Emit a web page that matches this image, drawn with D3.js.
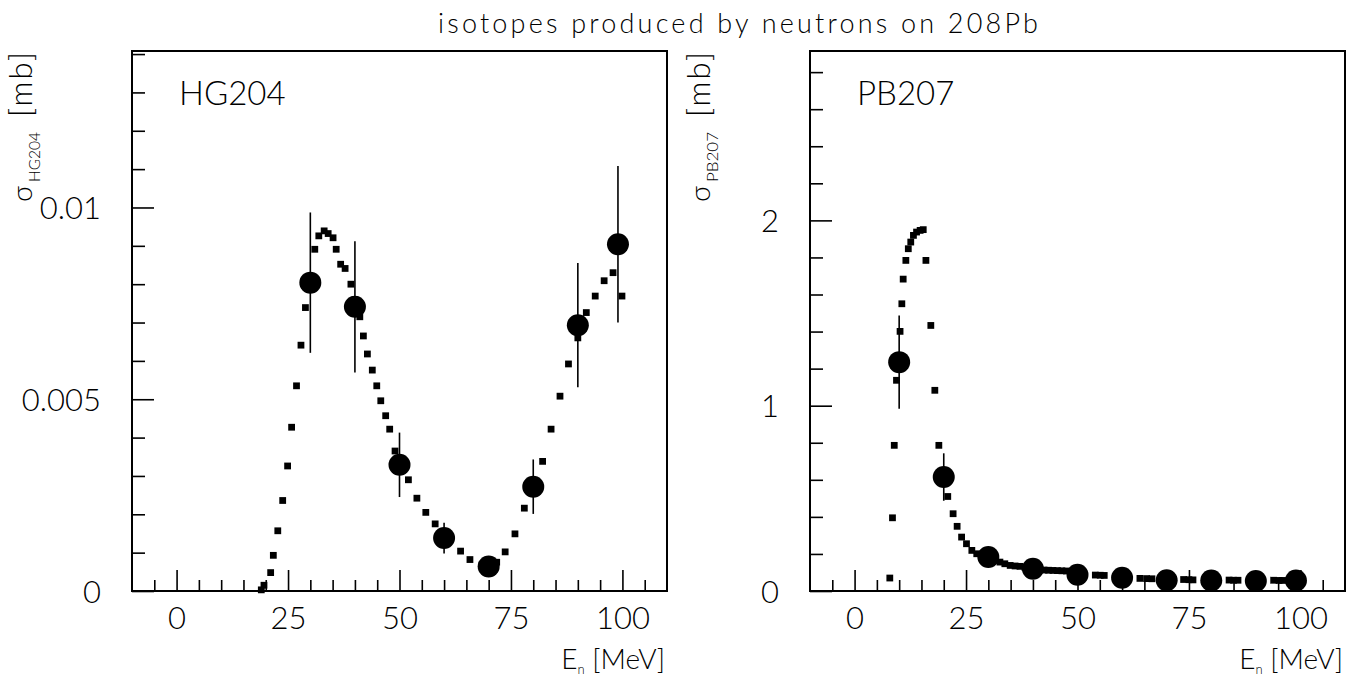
<!DOCTYPE html>
<html><head><meta charset="utf-8">
<script src="https://cdn.jsdelivr.net/npm/d3@7"></script>
<style>
html,body{margin:0;padding:0;background:#fff;}
svg{display:block;}
text{font-family:Lato,'Liberation Sans',Arial,sans-serif;font-weight:300;fill:#000;}
</style></head><body>
<svg id="chart" width="1347" height="680"></svg>
<script>
// ---------- data ----------
const titleText = "isotopes produced by neutrons on 208Pb";
const xTickValues = [0, 25, 50, 75, 100];
const xTickLabels = ["0", "25", "50", "75", "100"];

// HG204 panel
const hgName = "HG204";
const hgModelE = [19.0,19.6,21.1,21.7,22.7,23.8,24.9,25.8,26.9,27.9,28.9,30.0,31.0,31.9,33.1,34.0,35.1,35.8,36.8,37.8,39.1,40.0,41.1,41.9,42.8,43.9,44.9,45.8,46.9,47.8,49.0,50.5,52.0,53.9,55.9,58.0,60.0,63.7,65.8,68.5,70.0,71.8,73.7,75.9,78.0,80.0,82.1,84.0,86.0,87.9,90.0,91.9,93.9,95.9,97.9,99.9];
const hgModelS = [0.00003,0.00015,0.00048,0.00093,0.00157,0.00236,0.00326,0.00427,0.00535,0.00641,0.00739,0.00820,0.00891,0.00926,0.00939,0.00932,0.00921,0.00891,0.00852,0.00841,0.00800,0.00760,0.00715,0.00665,0.00618,0.00576,0.00535,0.00496,0.00457,0.00422,0.00365,0.00320,0.00290,0.00242,0.00205,0.00175,0.00140,0.00104,0.00082,0.00068,0.00062,0.00075,0.00102,0.00149,0.00216,0.00275,0.00338,0.00422,0.00508,0.00592,0.00660,0.00726,0.00769,0.00809,0.00830,0.00769];
const hgExpE = [30, 40, 50, 60, 70, 80, 90, 99];
const hgExpS = [0.00804, 0.00741, 0.00329, 0.00138, 0.00064, 0.00272, 0.00693, 0.00904];
const hgExpErr = [0.00183, 0.00171, 0.00084, 0.00040, 0.00010, 0.00071, 0.00162, 0.00204];
const hgYMax = 0.01408;
const hgYTickValues = [0, 0.005, 0.01];
const hgYTickLabels = ["0", "0.005", "0.01"];
const hgYMinor = [1,2,3,4,6,7,8,9,11,12,13,14].map(v => v / 1000);

// PB207 panel
const pbName = "PB207";
const pbModelE = [7.9,8.5,8.9,9.4,10.2,10.6,10.9,11.5,12.05,12.6,13.2,13.9,14.7,15.4,16.0,17.1,18.0,18.9,20.9,22.1,23.0,24.0,25.1,26.3,27.4,28.5,29.5,30.5,31.5,32.6,33.7,34.9,36.0,37.1,38.2,39.3,40.5,41.5,42.5,43.5,44.5,45.5,46.5,47.5,48.5,49.5,54.0,55.1,56.0,64.0,65.5,66.7,73.8,75.0,75.9,84.0,85.0,86.0,94.0,95.2,96.0];
const pbModelS = [0.070,0.395,0.786,1.137,1.401,1.550,1.683,1.784,1.847,1.883,1.919,1.937,1.946,1.950,1.784,1.433,1.083,0.786,0.510,0.417,0.349,0.291,0.255,0.219,0.201,0.192,0.186,0.178,0.167,0.156,0.147,0.138,0.135,0.133,0.128,0.124,0.118,0.115,0.113,0.112,0.111,0.110,0.109,0.108,0.106,0.100,0.086,0.085,0.084,0.068,0.067,0.066,0.062,0.061,0.060,0.059,0.058,0.058,0.058,0.057,0.057];
const pbExpE = [10, 20, 30, 40, 50, 60, 70, 80, 90, 99];
const pbExpS = [1.235, 0.615, 0.183, 0.120, 0.088, 0.072, 0.058, 0.057, 0.054, 0.057];
const pbExpErr = [0.252, 0.128, 0.020, 0.015, 0.010, 0.008, 0.007, 0.007, 0.007, 0.007];
const pbYMax = 2.914;
const pbYTickValues = [0, 1, 2];
const pbYTickLabels = ["0", "1", "2"];
const pbYMinor = [2,4,6,8,12,14,16,18,22,24,26,28].map(v => v / 10);

const xDomain = [-10, 110];
const xMinor = d3.range(-5, 110, 5).filter(v => !xTickValues.includes(v));

// ---------- drawing ----------
const svg = d3.select("#chart");
svg.append("rect").attr("width", 1347).attr("height", 680).attr("fill", "#fff");

svg.append("text")
  .attr("x", 438).attr("y", 33)
  .attr("font-size", 27)
  .attr("textLength", 600).attr("lengthAdjust", "spacing")
  .text(titleText);

function panel(cfg) {
  const left = cfg.left, top = 51, width = 535, height = 540;
  const x = d3.scaleLinear().domain(xDomain).range([left, left + width]);
  const y = d3.scaleLinear().domain([0, cfg.yMax]).range([top + height, top]);
  const g = svg.append("g");

  // x axis ticks (inward)
  const xMin = g.append("g").attr("transform", `translate(0,${top + height})`)
    .call(d3.axisBottom(x).tickValues(xMinor).tickSize(-11).tickFormat(""));
  const xMaj = g.append("g").attr("transform", `translate(0,${top + height})`)
    .call(d3.axisBottom(x).tickValues(xTickValues).tickSize(-21).tickPadding(16)
      .tickFormat((d, i) => xTickLabels[i]));
  // y axis ticks (inward)
  const yMin = g.append("g").attr("transform", `translate(${left},0)`)
    .call(d3.axisLeft(y).tickValues(cfg.yMinor).tickSize(-13).tickFormat(""));
  const yMaj = g.append("g").attr("transform", `translate(${left},0)`)
    .call(d3.axisLeft(y).tickValues(cfg.yTicks).tickSize(-22).tickPadding(31)
      .tickFormat((d, i) => cfg.yLabels[i]));
  [xMin, xMaj, yMin, yMaj].forEach(a => {
    a.select(".domain").remove();
    a.selectAll("line").attr("stroke", "#000").attr("stroke-width", 1.6);
    a.attr("font-family", null).attr("font-size", null);
    a.selectAll("text").attr("font-size", 31).attr("fill", "#000");
  });
  yMaj.selectAll("text").attr("dy", "0.36em");

  // frame
  g.append("rect").attr("x", left).attr("y", top).attr("width", width).attr("height", height)
    .attr("fill", "none").attr("stroke", "#000").attr("stroke-width", 2);

  // model points
  const sym = d3.symbol(d3.symbolSquare).size(46);
  g.append("g").selectAll("path").data(cfg.modelE).join("path")
    .attr("d", sym)
    .attr("transform", (d, i) => `translate(${x(d)},${y(cfg.modelS[i])})`)
    .attr("fill", "#000");

  // error bars
  g.append("g").selectAll("line").data(cfg.expE).join("line")
    .attr("x1", d => x(d)).attr("x2", d => x(d))
    .attr("y1", (d, i) => y(Math.max(0, cfg.expS[i] - cfg.expErr[i])))
    .attr("y2", (d, i) => y(cfg.expS[i] + cfg.expErr[i]))
    .attr("stroke", "#000").attr("stroke-width", 1.6);
  // experimental points
  g.append("g").selectAll("circle").data(cfg.expE).join("circle")
    .attr("cx", d => x(d)).attr("cy", (d, i) => y(cfg.expS[i]))
    .attr("r", 11).attr("fill", "#000");

  // isotope name
  g.append("text").attr("x", left + 47).attr("y", 105).attr("font-size", 33).text(cfg.name);

  // y label (rotated)
  const yl = g.append("g").attr("transform", `translate(${left - 100},0) rotate(-90)`);
  yl.append("text").attr("x", -202).attr("y", 0).attr("font-size", 28).text("σ");
  yl.append("text").attr("x", -182).attr("y", 8).attr("font-size", 15).attr("font-weight", 700)
    .attr("textLength", 50).attr("lengthAdjust", "spacingAndGlyphs").text(cfg.name);
  yl.append("text").attr("x", -117).attr("y", 0).attr("font-size", 31)
    .attr("textLength", 65).attr("lengthAdjust", "spacing").text("[mb]");

  // x label
  const xl = g.append("text").attr("x", left + width - 2).attr("y", 669)
    .attr("text-anchor", "end").attr("font-size", 28);
  xl.append("tspan").text("E");
  xl.append("tspan").attr("font-size", 13).attr("dy", 5).text("n");
  xl.append("tspan").attr("dy", -5).text(" [MeV]");
}

panel({left: 132, yMax: hgYMax, yTicks: hgYTickValues, yLabels: hgYTickLabels, yMinor: hgYMinor,
  modelE: hgModelE, modelS: hgModelS, expE: hgExpE, expS: hgExpS, expErr: hgExpErr, name: hgName});
panel({left: 810, yMax: pbYMax, yTicks: pbYTickValues, yLabels: pbYTickLabels, yMinor: pbYMinor,
  modelE: pbModelE, modelS: pbModelS, expE: pbExpE, expS: pbExpS, expErr: pbExpErr, name: pbName});
</script>
</body></html>
